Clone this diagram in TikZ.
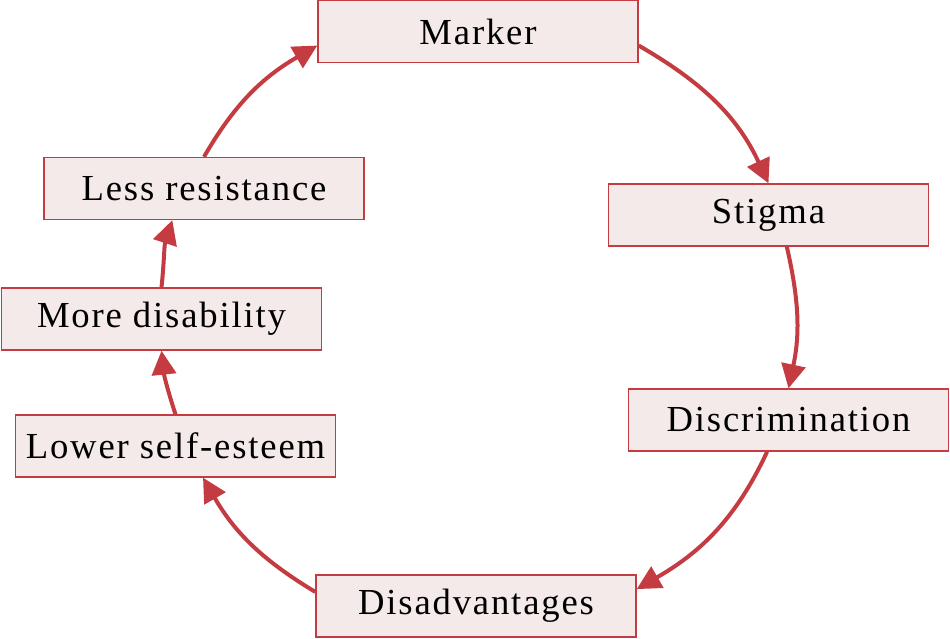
\documentclass[tikz,border=0pt]{standalone}
\usepackage{fontspec}
\setmainfont{Liberation Serif}[LetterSpace=5]
\usetikzlibrary{arrows.meta}
\definecolor{boxfill}{RGB}{245,234,234}
\definecolor{boxline}{RGB}{196,60,66}
\tikzstyle{stage} = [rectangle, minimum width=240pt, minimum height=46.5pt, text centered, draw=boxline, line width=1pt, fill=boxfill, font=\fontsize{27.5}{32}\selectfont]
\tikzstyle{arrow} = [line width=3pt, draw=boxline, -{Triangle[length=18pt,width=18pt]}]

\begin{document}
\begin{tikzpicture}[x=0.75pt, y=0.75pt]
	\useasboundingbox (0,0) rectangle (950,639);
	\node (marker) [stage] at (478,607.5) {Marker};
	\node (stigma) [stage] at (768.5,424) {Stigma};
	\node (discr) [stage] at (788.5,219) {Discrimination};
	\node (disadv) [stage] at (476,33) {Disadvantages};
	\node (lower) [stage] at (175.5,193) {Lower self-esteem};
	\node (more) [stage] at (161.5,320) {More disability};
	\node (less) [stage] at (204,450.5) {Less resistance};
	\draw [arrow] (marker.-5) to [out=-30, in=115] (stigma.north);
	\draw [arrow] (stigma.-60) to [out=-77, in=78] (discr.north);
	\draw [arrow] (discr.-124) to [out=-115, in=30] (disadv.6);
	\draw [arrow] (disadv.175) to [out=149, in=-60] (lower.-49);
	\draw [arrow] (lower.north) to [out=108, in=-84] (more.south);
	\draw [arrow] (more.north) to [out=84, in=-108] (less.-135);
	\draw [arrow] (less.north) to [out=60, in=-150] (marker.185);
\end{tikzpicture}
\end{document}
